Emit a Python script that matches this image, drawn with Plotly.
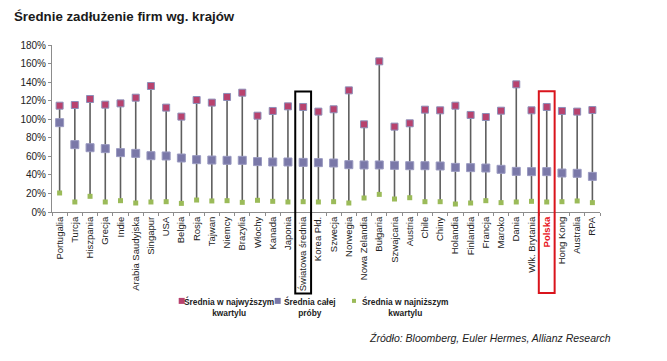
import plotly.graph_objects as go

countries = ["Portugalia", "Turcja", "Hiszpania", "Grecja", "Indie", "Arabia Saudyjska",
             "Singapur", "USA", "Belgia", "Rosja", "Tajwan", "Niemcy", "Brazylia", "Włochy",
             "Kanada", "Japonia", "Światowa średnia", "Korea Płd.", "Szwecja", "Norwegia",
             "Nowa Zelandia", "Bułgaria", "Szwajcaria", "Austria", "Chile", "Chiny",
             "Holandia", "Finlandia", "Francja", "Maroko", "Dania", "Wlk. Brytania",
             "Polska", "Hong Kong", "Australia", "RPA"]

top_quartile = [114.6, 115.3, 121.8, 115.7, 117.1, 123.2, 135.8, 112.5, 102.8, 120.7,
                117.9, 124.0, 128.6, 103.8, 108.9, 113.9, 113.2, 108.2, 110.7, 131.1,
                94.5, 162.4, 92.0, 95.6, 110.3, 109.6, 114.6, 104.6, 102.4, 109.2,
                137.6, 109.6, 113.2, 108.9, 108.2, 109.9]

sample_mean = [96.3, 72.6, 69.3, 68.3, 64.0, 63.2, 60.7, 60.4, 58.2, 56.4,
               56.0, 55.7, 55.7, 54.3, 53.9, 53.9, 53.5, 53.2, 52.8, 51.0,
               50.7, 50.7, 50.3, 49.9, 49.9, 49.6, 48.1, 47.8, 47.4, 46.0,
               43.8, 43.5, 43.5, 42.0, 41.7, 38.4]

bottom_quartile = [20.5, 10.8, 16.9, 10.8, 12.2, 9.7, 10.8, 11.1, 9.3, 12.9,
                   11.9, 12.2, 10.4, 12.6, 11.5, 10.8, 11.1, 10.8, 11.1, 9.7,
                   15.1, 19.0, 14.0, 15.4, 11.1, 11.1, 8.6, 9.7, 12.2, 10.1,
                   10.8, 11.5, 10.8, 11.1, 11.9, 10.1]

y_ticks = [0, 20, 40, 60, 80, 100, 120, 140, 160, 180]

legend_names = ["Średnia w najwyższym<br>kwartylu", "Średnia całej<br>próby",
                "Średnia w najniższym<br>kwartylu"]

TOP_C = "#b8426e"
MID_C = "#7a78a8"
LOW_C = "#9bbb59"

tick_text = [f"<b>{c}</b>" if c == "Polska" else c for c in countries]
tick_text = [f"<span style='color:#e8141c'>{t}</span>" if c == "Polska" else t
             for c, t in zip(countries, tick_text)]

fig = go.Figure()

# vertical range lines (low -> top) via error bars
fig.add_trace(go.Scatter(
    x=countries, y=top_quartile, mode="markers",
    marker=dict(size=0.1, color="rgba(0,0,0,0)"),
    error_y=dict(type="data", symmetric=False,
                 array=[0] * len(countries),
                 arrayminus=[t - b for t, b in zip(top_quartile, bottom_quartile)],
                 color="#5e5e5e", thickness=1.6, width=0),
    hoverinfo="skip", showlegend=False))

fig.add_trace(go.Scatter(
    x=countries, y=bottom_quartile, mode="markers", name=legend_names[2],
    marker=dict(symbol="square", size=5, color=LOW_C), showlegend=False))
fig.add_trace(go.Scatter(
    x=countries, y=sample_mean, mode="markers", name=legend_names[1],
    marker=dict(symbol="square", size=8, color=MID_C,
                line=dict(color="#9a9ac0", width=1)), showlegend=False))
fig.add_trace(go.Scatter(
    x=countries, y=top_quartile, mode="markers", name=legend_names[0],
    marker=dict(symbol="square", size=7, color=TOP_C,
                line=dict(color="#8d8fb8", width=1)), showlegend=False))

ax_col = "#8c8c8c"
fig.update_layout(
    width=667, height=361,
    margin=dict(l=52, r=67, t=44.5, b=149.3),
    paper_bgcolor="white", plot_bgcolor="white",
    font=dict(family="Arial, Liberation Sans, sans-serif", color="#222"),
    xaxis=dict(type="category", categoryorder="array", categoryarray=countries,
               tickmode="array", tickvals=countries, ticktext=tick_text,
               tickangle=-90, tickfont=dict(size=9.5, color="#222"),
               showline=True, linecolor=ax_col, linewidth=1,
               ticks="outside", ticklen=3, tickcolor=ax_col, tickson="boundaries",
               showgrid=False, zeroline=False, range=[-0.5, len(countries) - 0.5]),
    yaxis=dict(range=[0, 180], tickvals=y_ticks, ticktext=[f"{v}%" for v in y_ticks],
               tickfont=dict(size=10, color="#222"),
               showline=True, linecolor=ax_col, linewidth=1,
               ticks="outside", ticklen=3, tickcolor=ax_col,
               showgrid=False, zeroline=False),
    showlegend=False,
)

def px_x(px):
    return (px - 52) / 548

def px_y(py):
    return (211.7 - py) / 167.2

# title
fig.add_annotation(text="<b>Średnie zadłużenie firm wg. krajów</b>", xref="paper", yref="paper",
                   x=px_x(12), y=px_y(15.5), xanchor="left", yanchor="middle",
                   showarrow=False, font=dict(size=13.3, color="#1a1a1a"))

# highlight boxes
i_w = countries.index("Światowa średnia")
i_p = countries.index("Polska")
fig.add_shape(type="rect", xref="x", yref="paper", x0=i_w - 0.52, x1=i_w + 0.52,
              y0=px_y(293.3), y1=px_y(91),
              line=dict(color="black", width=2), fillcolor="rgba(0,0,0,0)")
fig.add_shape(type="rect", xref="x", yref="paper", x0=i_p - 0.52, x1=i_p + 0.52,
              y0=px_y(292.7), y1=px_y(90.7),
              line=dict(color="#d9141c", width=2), fillcolor="rgba(0,0,0,0)")

# legend (manual)
leg = [(181.7, 229, legend_names[0], TOP_C, 6),
       (277.7, 310, legend_names[1], MID_C, 6),
       (354.0, 405, legend_names[2], LOW_C, 4)]
for mx, tx, txt, col, s in leg:
    fig.add_shape(type="rect", xref="paper", yref="paper",
                  x0=px_x(mx - s / 2), x1=px_x(mx + s / 2),
                  y0=px_y(300.7 + s / 2), y1=px_y(300.7 - s / 2),
                  line=dict(width=0), fillcolor=col)
    fig.add_annotation(text=f"<b>{txt}</b>", xref="paper", yref="paper",
                       x=px_x(tx), y=px_y(307), xanchor="center", yanchor="middle",
                       align="center", showarrow=False,
                       font=dict(size=8.4, color="#222"))

fig.add_annotation(text="<i>Źródło: Bloomberg, Euler Hermes, Allianz Research</i>",
                   xref="paper", yref="paper", x=px_x(367), y=px_y(338),
                   xanchor="left", yanchor="middle", showarrow=False,
                   font=dict(size=10.5, color="#222"))

fig.write_html("out.html", config={"displayModeBar": False},
               post_script="document.body.style.margin='0';document.body.style.overflow='hidden';")
